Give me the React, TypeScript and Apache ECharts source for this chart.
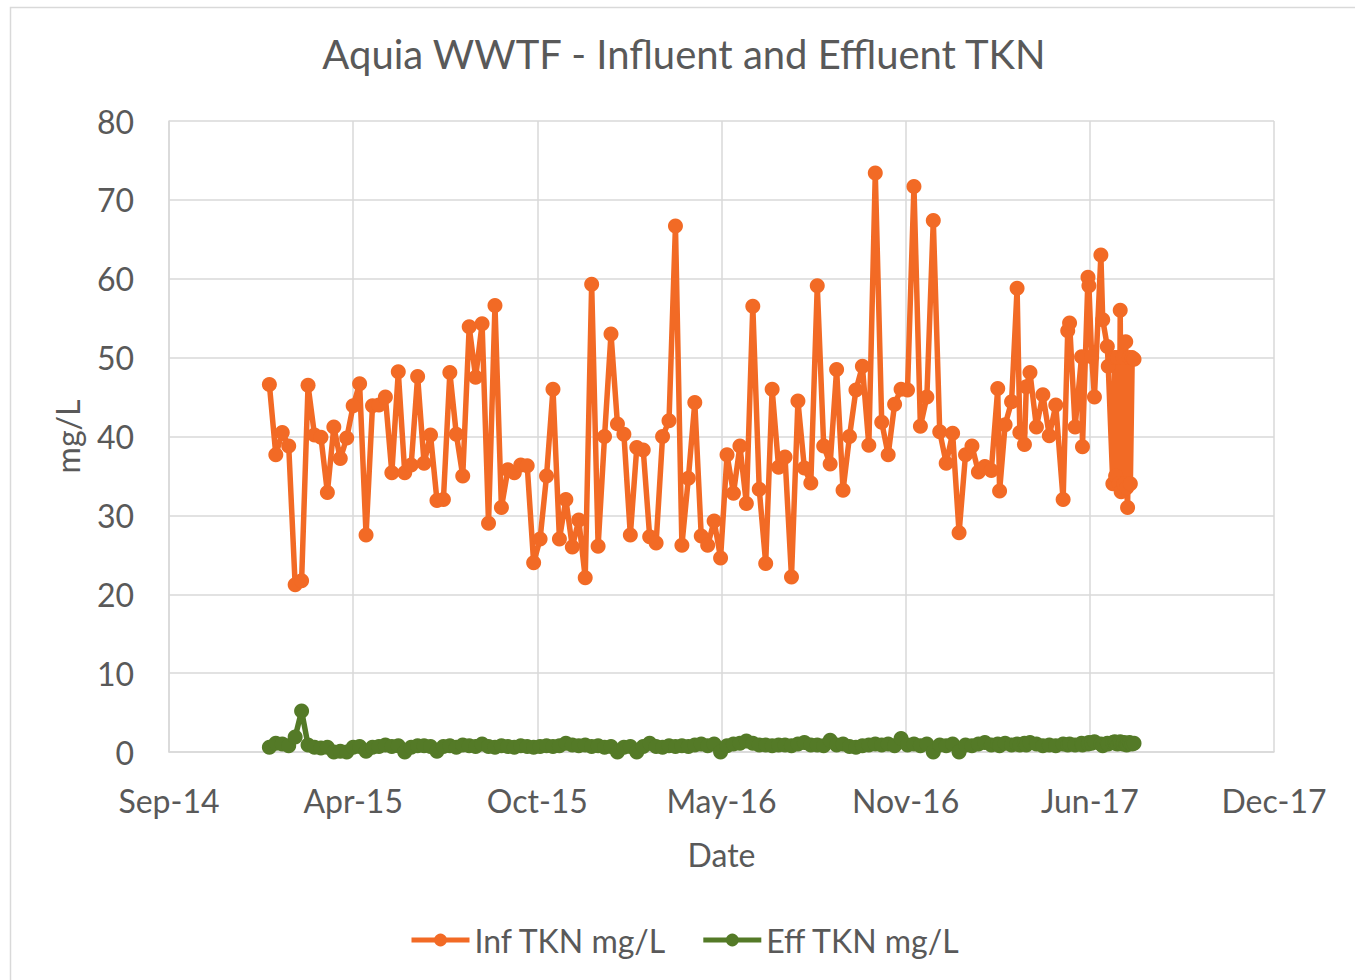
import React, { useEffect, useRef } from "react";
import * as echarts from "echarts";

const FONT = "Lato, 'Open Sans', sans-serif";
const TITLE = "Aquia WWTF - Influent and Effluent TKN";
const SERIES_NAMES = ["Inf TKN mg/L", "Eff TKN mg/L"];
const X_NAME = "Date";
const Y_NAME = "mg/L";
const MONTHS = ["Jan", "Feb", "Mar", "Apr", "May", "Jun", "Jul", "Aug", "Sep", "Oct", "Nov", "Dec"];

// Excel date serial range of the x axis (Sep-14 .. Dec-17, step 200 days)
const X_MIN = 41900;
const X_MAX = 43100;
const X_STEP = 200;
const Y_MIN = 0;
const Y_MAX = 80;
const Y_STEP = 10;

const dates = [
  "2015-01-05", "2015-01-12", "2015-01-19", "2015-01-26", "2015-02-02", "2015-02-09", "2015-02-16", "2015-02-23",
  "2015-03-02", "2015-03-09", "2015-03-16", "2015-03-23", "2015-03-30", "2015-04-06", "2015-04-13", "2015-04-20",
  "2015-04-27", "2015-05-04", "2015-05-11", "2015-05-18", "2015-05-25", "2015-06-01", "2015-06-08", "2015-06-15",
  "2015-06-22", "2015-06-29", "2015-07-06", "2015-07-13", "2015-07-20", "2015-07-27", "2015-08-03", "2015-08-10",
  "2015-08-17", "2015-08-24", "2015-08-31", "2015-09-07", "2015-09-14", "2015-09-21", "2015-09-28", "2015-10-05",
  "2015-10-12", "2015-10-19", "2015-10-26", "2015-11-02", "2015-11-09", "2015-11-16", "2015-11-23", "2015-11-30",
  "2015-12-07", "2015-12-14", "2015-12-21", "2015-12-28", "2016-01-04", "2016-01-11", "2016-01-18", "2016-01-25",
  "2016-02-01", "2016-02-08", "2016-02-15", "2016-02-22", "2016-02-29", "2016-03-07", "2016-03-14", "2016-03-21",
  "2016-03-28", "2016-04-04", "2016-04-11", "2016-04-18", "2016-04-25", "2016-05-02", "2016-05-09", "2016-05-16",
  "2016-05-23", "2016-05-30", "2016-06-06", "2016-06-13", "2016-06-20", "2016-06-27", "2016-07-04", "2016-07-11",
  "2016-07-18", "2016-07-25", "2016-08-01", "2016-08-08", "2016-08-15", "2016-08-22", "2016-08-29", "2016-09-05",
  "2016-09-12", "2016-09-19", "2016-09-26", "2016-10-03", "2016-10-10", "2016-10-17", "2016-10-24", "2016-10-31",
  "2016-11-07", "2016-11-14", "2016-11-21", "2016-11-28", "2016-12-05", "2016-12-12", "2016-12-19", "2016-12-26",
  "2017-01-02", "2017-01-09", "2017-01-16", "2017-01-23", "2017-01-30", "2017-02-06", "2017-02-13", "2017-02-20",
  "2017-02-27", "2017-03-06", "2017-03-08", "2017-03-14", "2017-03-21", "2017-03-27", "2017-03-30", "2017-04-04",
  "2017-04-06", "2017-04-10", "2017-04-17", "2017-04-24", "2017-05-01", "2017-05-08", "2017-05-16", "2017-05-21",
  "2017-05-23", "2017-05-29", "2017-06-05", "2017-06-06", "2017-06-12", "2017-06-13", "2017-06-16", "2017-06-19",
  "2017-06-26", "2017-06-28", "2017-07-03", "2017-07-04", "2017-07-09", "2017-07-11", "2017-07-12", "2017-07-14",
  "2017-07-16", "2017-07-17", "2017-07-18", "2017-07-20", "2017-07-21", "2017-07-23", "2017-07-24", "2017-07-25",
  "2017-07-27", "2017-07-28", "2017-07-30", "2017-08-01",
];

const infTKN = [
  46.6, 37.7, 40.5, 38.8, 21.2, 21.7, 46.5, 40.2,
  39.9, 32.9, 41.2, 37.2, 39.8, 43.9, 46.7, 27.5,
  43.9, 44.0, 45.0, 35.4, 48.2, 35.4, 36.4, 47.6,
  36.6, 40.2, 31.9, 32.0, 48.1, 40.3, 35.0, 53.9,
  47.5, 54.3, 29.0, 56.6, 31.0, 35.8, 35.4, 36.4,
  36.3, 24.0, 27.0, 35.0, 46.0, 27.0, 32.0, 26.0,
  29.4, 22.1, 59.3, 26.1, 40.0, 53.0, 41.6, 40.3,
  27.5, 38.6, 38.3, 27.3, 26.5, 40.0, 42.0, 66.7,
  26.2, 34.7, 44.3, 27.4, 26.2, 29.3, 24.6, 37.7,
  32.8, 38.8, 31.5, 56.5, 33.3, 23.9, 46.0, 36.1,
  37.4, 22.2, 44.5, 36.0, 34.1, 59.1, 38.8, 36.5,
  48.5, 33.2, 40.0, 45.9, 48.9, 38.9, 73.4, 41.8,
  37.7, 44.1, 46.0, 45.9, 71.7, 41.3, 45.0, 67.4,
  40.6, 36.6, 40.4, 27.8, 37.7, 38.8, 35.5, 36.2,
  35.7, 46.1, 33.1, 41.5, 44.4, 58.8, 40.5, 39.0,
  46.3, 48.1, 41.2, 45.3, 40.1, 44.0, 32.0, 53.4,
  54.4, 41.2, 50.1, 38.7, 60.2, 59.1, 50.1, 45.0,
  63.0, 54.8, 51.4, 48.9, 34.0, 50.0, 35.0, 50.0,
  34.0, 56.0, 33.0, 50.0, 34.0, 52.0, 33.5, 31.0,
  50.0, 34.0, 50.0, 49.8,
];

const effTKN = [
  0.6, 1.1, 1.0, 0.8, 1.9, 5.2, 0.9, 0.6,
  0.5, 0.6, 0.0, 0.1, 0.0, 0.6, 0.7, 0.1,
  0.6, 0.7, 0.9, 0.7, 0.8, 0.0, 0.6, 0.8,
  0.8, 0.7, 0.1, 0.7, 0.8, 0.6, 0.9, 0.8,
  0.7, 1.0, 0.7, 0.6, 0.8, 0.7, 0.6, 0.8,
  0.7, 0.6, 0.7, 0.8, 0.7, 0.8, 1.1, 0.9,
  0.8, 0.9, 0.7, 0.8, 0.6, 0.7, 0.0, 0.6,
  0.7, 0.0, 0.7, 1.1, 0.7, 0.6, 0.8, 0.7,
  0.8, 0.7, 0.9, 1.0, 0.8, 1.0, 0.0, 0.8,
  1.0, 1.1, 1.4, 1.1, 0.9, 0.9, 0.8, 0.9,
  0.9, 0.8, 1.0, 1.2, 0.9, 0.9, 0.8, 1.5,
  0.9, 1.0, 0.7, 0.6, 0.8, 0.9, 1.0, 0.9,
  1.0, 0.8, 1.7, 0.9, 1.0, 0.8, 1.0, 0.0,
  0.9, 0.8, 1.0, 0.0, 0.9, 0.8, 1.0, 1.2,
  0.9, 1.0, 0.8, 1.1, 0.9, 1.0, 0.9, 1.1,
  0.9, 1.2, 1.0, 0.8, 0.9, 0.8, 1.0, 0.9,
  1.0, 0.9, 1.1, 0.9, 1.0, 1.2, 1.1, 1.3,
  1.0, 0.8, 1.1, 1.0, 1.2, 1.3, 1.1, 1.0,
  1.2, 1.3, 1.1, 1.0, 1.2, 1.1, 0.9, 1.0,
  1.2, 1.1, 1.0, 1.1,
];

const EXCEL_EPOCH = Date.UTC(1899, 11, 30);
const DAY_MS = 86400000;

function toSerial(d: string): number {
  const [y, m, dd] = d.split("-").map(Number);
  return Math.round((Date.UTC(y, m - 1, dd) - EXCEL_EPOCH) / DAY_MS);
}

function serialLabel(v: number): string {
  const dt = new Date(EXCEL_EPOCH + v * DAY_MS);
  const yy = String(dt.getUTCFullYear() % 100).padStart(2, "0");
  return MONTHS[dt.getUTCMonth()] + "-" + yy;
}

const ORANGE = "#f26a25";
const GREEN = "#547a27";
const TEXT = "#595959";
const GRID = "#d9d9d9";

export default function App() {
  const ref = useRef<HTMLDivElement>(null);

  useEffect(() => {
    if (!ref.current) return;
    const chart = echarts.init(ref.current, undefined, { renderer: "svg" });
    const infData = dates.map((d, i) => [toSerial(d), infTKN[i]]);
    const effData = dates.map((d, i) => [toSerial(d), effTKN[i]]);

    chart.setOption({
      animation: false,
      backgroundColor: "#ffffff",
      textStyle: { fontFamily: FONT },
      title: {
        text: TITLE,
        left: 679,
        textAlign: "center",
        top: 29,
        textStyle: { fontSize: 40, fontWeight: "normal", color: TEXT, fontFamily: FONT },
      },
      graphic: [
        {
          type: "rect",
          shape: { x: 10.5, y: 7.5, width: 1400, height: 1000 },
          style: { fill: "none", stroke: GRID, lineWidth: 1.5 },
          silent: true,
          z: -1,
        },
      ],
      legend: {
        data: SERIES_NAMES,
        left: 404,
        top: 919,
        itemWidth: 58,
        itemHeight: 16,
        itemGap: 34,
        lineStyle: { width: 5 },
        textStyle: { fontSize: 32, color: TEXT, fontFamily: FONT },
      },
      grid: { left: 169, top: 121, width: 1105, height: 631, containLabel: false },
      xAxis: {
        type: "value",
        min: X_MIN,
        max: X_MAX,
        interval: X_STEP,
        name: X_NAME,
        nameLocation: "middle",
        nameGap: 86,
        nameTextStyle: { fontSize: 32, color: TEXT, fontFamily: FONT },
        axisLine: { show: true, lineStyle: { color: GRID, width: 1.5 } },
        axisTick: { show: false },
        axisLabel: {
          margin: 32,
          fontSize: 32,
          color: TEXT,
          fontFamily: FONT,
          formatter: (v: number) => serialLabel(v),
        },
        splitLine: { show: true, lineStyle: { color: GRID, width: 1.5 } },
      },
      yAxis: {
        type: "value",
        min: Y_MIN,
        max: Y_MAX,
        interval: Y_STEP,
        name: Y_NAME,
        nameLocation: "middle",
        nameRotate: 90,
        nameGap: 86,
        nameTextStyle: { fontSize: 32, color: TEXT, fontFamily: FONT },
        axisLine: { show: true, lineStyle: { color: GRID, width: 1.5 } },
        axisTick: { show: false },
        axisLabel: { margin: 35, fontSize: 32, color: TEXT, fontFamily: FONT },
        splitLine: { show: true, lineStyle: { color: GRID, width: 1.5 } },
      },
      series: [
        {
          name: SERIES_NAMES[0],
          type: "line",
          data: infData,
          symbol: "circle",
          symbolSize: 15,
          showAllSymbol: true,
          lineStyle: { color: ORANGE, width: 5.5 },
          itemStyle: { color: ORANGE },
        },
        {
          name: SERIES_NAMES[1],
          type: "line",
          data: effData,
          symbol: "circle",
          symbolSize: 15,
          showAllSymbol: true,
          lineStyle: { color: GREEN, width: 5.5 },
          itemStyle: { color: GREEN },
        },
      ],
    });

    return () => chart.dispose();
  }, []);

  return (
    <div
      ref={ref}
      style={{ position: "absolute", left: 0, top: 0, width: 1355, height: 980, background: "#fff" }}
    />
  );
}
